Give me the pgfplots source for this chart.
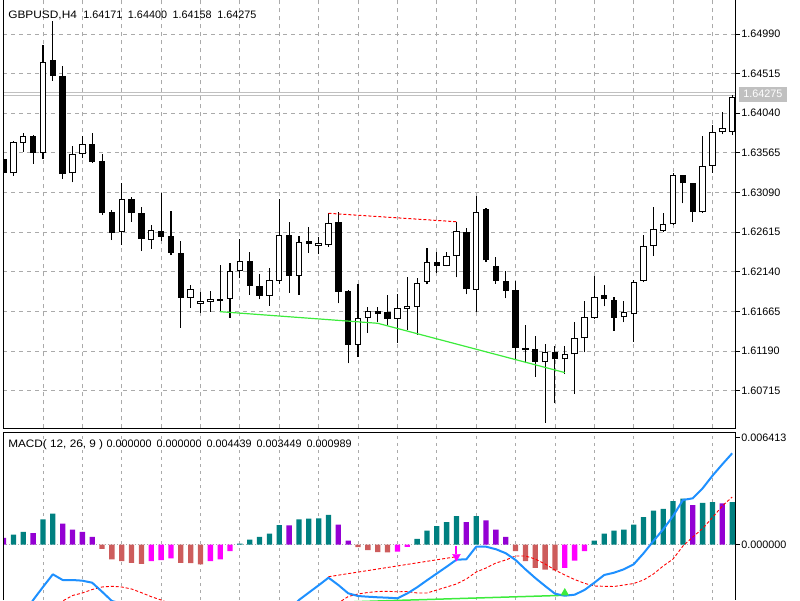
\documentclass[border=0pt]{standalone}
\usepackage{fontspec}
\setmainfont{Liberation Sans}
\usepackage{graphicx}
\usepackage{pgfplots}
\usepackage{pgfplotstable}
\pgfplotsset{compat=1.18}

\definecolor{gridc}{RGB}{170,170,170}
\definecolor{macdteal}{RGB}{0,128,128}
\definecolor{macdpurple}{RGB}{148,0,211}
\definecolor{macdsalmon}{RGB}{205,92,92}
\definecolor{macdmag}{RGB}{255,0,255}
\definecolor{macdblue}{RGB}{30,144,255}
\definecolor{divgreen}{RGB}{60,235,60}
\definecolor{bidgray}{RGB}{192,192,192}

\pgfplotstableread{
i o h l c
0 1.63492 1.63516 1.63300 1.63324
1 1.63321 1.63702 1.63292 1.63692
2 1.63687 1.63807 1.63579 1.63768
3 1.63768 1.63776 1.63432 1.63567
4 1.63567 1.64858 1.63492 1.64651
5 1.64678 1.65149 1.64427 1.64487
6 1.64487 1.64607 1.63252 1.63312
7 1.63321 1.63648 1.63213 1.63552
8 1.63552 1.63768 1.63508 1.63672
9 1.63672 1.63798 1.63444 1.63460
10 1.63468 1.63552 1.62821 1.62848
11 1.62860 1.62881 1.62521 1.62609
12 1.62611 1.63210 1.62461 1.63009
13 1.63009 1.63040 1.62740 1.62848
14 1.62848 1.62920 1.62389 1.62533
15 1.62521 1.62701 1.62413 1.62641
16 1.62629 1.63081 1.62513 1.62561
17 1.62569 1.62869 1.62341 1.62369
18 1.62362 1.62513 1.61470 1.61830
19 1.61830 1.61982 1.61710 1.61934
20 1.61754 1.61894 1.61650 1.61790
21 1.61782 1.61914 1.61662 1.61814
22 1.61814 1.62222 1.61662 1.61794
23 1.61814 1.62242 1.61590 1.62153
24 1.62153 1.62530 1.62062 1.62273
25 1.62273 1.62381 1.61862 1.61970
26 1.61973 1.62110 1.61810 1.61850
27 1.61850 1.62189 1.61734 1.62042
28 1.62033 1.63013 1.61994 1.62581
29 1.62581 1.62733 1.61890 1.62090
30 1.62090 1.62573 1.61862 1.62494
31 1.62509 1.62673 1.62369 1.62473
32 1.62449 1.62561 1.62350 1.62482
33 1.62461 1.62848 1.62441 1.62721
34 1.62733 1.62860 1.61762 1.61902
35 1.61910 1.61922 1.61043 1.61263
36 1.61263 1.61994 1.61123 1.61590
37 1.61583 1.61722 1.61407 1.61670
38 1.61674 1.61722 1.61542 1.61634
39 1.61655 1.61862 1.61502 1.61574
40 1.61574 1.61874 1.61290 1.61703
41 1.61694 1.62081 1.61442 1.61730
42 1.61722 1.62062 1.61383 1.62002
43 1.62021 1.62422 1.61990 1.62254
44 1.62261 1.62381 1.62122 1.62213
45 1.62213 1.62381 1.62205 1.62333
46 1.62329 1.62740 1.62074 1.62629
47 1.62613 1.62661 1.61870 1.61930
48 1.61922 1.63048 1.61662 1.62860
49 1.62887 1.62901 1.62257 1.62278
50 1.62210 1.62321 1.61994 1.62033
51 1.62033 1.62153 1.61822 1.61914
52 1.61922 1.62033 1.61095 1.61230
53 1.61230 1.61502 1.61043 1.61203
54 1.61215 1.61371 1.60883 1.61063
55 1.61055 1.61271 1.60332 1.61182
56 1.61182 1.61251 1.60564 1.61091
57 1.61091 1.61251 1.60915 1.61151
58 1.61151 1.61535 1.60675 1.61343
59 1.61343 1.61790 1.61175 1.61602
60 1.61590 1.62090 1.61580 1.61842
61 1.61862 1.61982 1.61727 1.61810
62 1.61802 1.61834 1.61434 1.61590
63 1.61595 1.61790 1.61535 1.61655
64 1.61634 1.62042 1.61302 1.62021
65 1.62030 1.62581 1.62014 1.62453
66 1.62449 1.62920 1.62329 1.62653
67 1.62633 1.62848 1.62621 1.62713
68 1.62709 1.63321 1.62700 1.63300
69 1.63300 1.63305 1.62961 1.63201
70 1.63201 1.63205 1.62740 1.62860
71 1.62853 1.63768 1.62845 1.63408
72 1.63408 1.63899 1.63328 1.63819
73 1.63812 1.64059 1.63788 1.63860
74 1.63819 1.64259 1.63780 1.64230
}\candles

\newcommand{\lblfont}{\fontsize{10.8}{12}\selectfont}

\begin{document}
\begin{tikzpicture}
\useasboundingbox (0pt,0pt) rectangle (800pt,600pt);

% ---------------- main price chart ----------------
\begin{axis}[
  at={(3.3pt,171.7pt)}, anchor=south west, scale only axis,
  width=732.4pt, height=428.3pt,
  xmin=-0.03, xmax=74.36, ymin=1.602643, ymax=1.653975,
  axis line style={draw=none},
  clip mode=individual,
  scaled x ticks=false, scaled y ticks=false,
  xtick={4,8,...,72}, xticklabels={}, xmajorgrids,
  xtick style={draw=none},
  ytick={1.64990,1.64515,1.64040,1.63565,1.63090,1.62615,1.62140,1.61665,1.61190,1.60715},
  yticklabels={1.64990,1.64515,1.64040,1.63565,1.63090,1.62615,1.62140,1.61665,1.61190,1.60715},
  ymajorgrids, ytick pos=right, ytick align=outside,
  major tick length=4pt,
  ytick style={black, line width=0.8pt},
  grid style={gridc, dash pattern=on 4pt off 4pt, line width=0.8pt},
  yticklabel style={font=\lblfont, anchor=west, inner sep=1.5pt},
]
\addplot[bidgray, line width=1pt] coordinates {(-1,1.64287) (76,1.64287)};
\addplot[bidgray, line width=1pt] coordinates {(-1,1.64252) (76,1.64252)};
% wicks
\addplot[draw=none, mark=none, error bars/.cd, y dir=plus, y explicit, error mark=none,
  error bar style={draw=black, line width=1.1pt}]
  table[x=i, y=l, y error plus expr={\thisrow{h}-\thisrow{l}}] {\candles};
% body outlines
\addplot[draw=none, mark=none, error bars/.cd, y dir=plus, y explicit, error mark=none,
  error bar style={draw=black, line width=6.4pt}]
  table[x=i, y expr={min(\thisrow{o},\thisrow{c})}, y error plus expr={max(abs(\thisrow{c}-\thisrow{o}),0.00012)}] {\candles};
% bullish inner fill
\addplot[draw=none, mark=none, error bars/.cd, y dir=plus, y explicit, error mark=none,
  error bar style={draw=white, line width=4.4pt}]
  table[x=i, y expr={\thisrow{o}+0.00012}, y error plus expr={max(\thisrow{c}-\thisrow{o}-0.00024,0)}] {\candles};
% divergence lines
\addplot[red, line width=1pt, dash pattern=on 3pt off 2pt] coordinates {(33,1.62841) (46,1.62740)};
\addplot[divgreen, line width=1.2pt] coordinates {(22,1.61662) (38,1.61523) (57,1.60932)};

\draw[black, line width=1pt] (rel axis cs:0,1) -- (rel axis cs:0,0) -- (rel axis cs:1,0) -- (rel axis cs:1,1);
\node[anchor=base west, font=\lblfont, inner sep=0pt] at ([xshift=4.8pt, yshift=-19pt]rel axis cs:0,1)
  {\makebox[75pt][l]{\scalebox{1.1}[1]{GBPUSD,H4}}\makebox[44.7pt][l]{1.64171}\makebox[44.7pt][l]{1.64400}\makebox[44.7pt][l]{1.64158}1.64275};
\end{axis}

\node[fill=bidgray, text=white, font=\lblfont, minimum width=47.7pt, minimum height=15pt, inner sep=0pt]
  at (762.8pt,505.8pt) {1.64275};

% ---------------- MACD panel ----------------
\begin{axis}[
  at={(3.3pt,0pt)}, anchor=south west, scale only axis,
  width=732.4pt, height=167.5pt,
  xmin=-0.03, xmax=74.36, ymin=-0.00332, ymax=0.0067,
  axis line style={draw=none},
  clip mode=individual,
  scaled x ticks=false, scaled y ticks=false,
  xtick={4,8,...,72}, xticklabels={}, xmajorgrids,
  xtick style={draw=none},
  ytick={0,0.006413}, yticklabels={0.000000,0.006413},
  ytick pos=right, ytick align=outside, major tick length=4pt,
  ytick style={black, line width=0.8pt},
  grid style={gridc, dash pattern=on 3pt off 4pt, line width=0.8pt},
  yticklabel style={font=\lblfont, anchor=west, inner sep=1.5pt},
]
\addplot[gridc, line width=0.8pt, dash pattern=on 1pt off 2pt] coordinates {(-1,0) (76,0)};
\addplot[ybar, bar width=5.3pt, bar shift=0pt, fill=macdteal, draw=none] coordinates {
(1,0.000598) (2,0.000760) (4,0.001496) (5,0.001854) (24,0.000060) (25,0.000299) (26,0.000461) (27,0.000658) (28,0.001155) (30,0.001496) (31,0.001555) (32,0.001567) (33,0.001777) (42,0.000341) (43,0.000837) (44,0.001095) (45,0.001334) (46,0.001693) (48,0.001693) (60,0.000239) (61,0.000658) (62,0.000837) (63,0.000897) (64,0.001196) (65,0.001633) (66,0.002034) (67,0.002136) (68,0.002590) (69,0.002752) (71,0.002494) (72,0.002530) (74,0.002530)};
\addplot[ybar, bar width=5.3pt, bar shift=0pt, fill=macdpurple, draw=none] coordinates {
(0,0.000401) (3,0.000676) (6,0.001256) (7,0.000897) (8,0.000760) (9,0.000461) (29,0.001137) (34,0.001196) (35,0.000239) (47,0.001334) (49,0.001436) (50,0.000897) (51,0.000461) (70,0.002351) (73,0.002453)};
\addplot[ybar, bar width=5.3pt, bar shift=0pt, fill=macdsalmon, draw=none] coordinates {
(10,-0.000257) (11,-0.000897) (12,-0.000999) (13,-0.001095) (14,-0.001155) (18,-0.001095) (19,-0.001107) (20,-0.001196) (36,-0.000162) (37,-0.000341) (38,-0.000461) (39,-0.000467) (52,-0.000401) (53,-0.000999) (54,-0.001394) (55,-0.001496) (56,-0.001555)};
\addplot[ybar, bar width=5.3pt, bar shift=0pt, fill=macdmag, draw=none] coordinates {
(15,-0.000999) (16,-0.000939) (17,-0.000837) (21,-0.000999) (22,-0.000897) (23,-0.000401) (40,-0.000419) (41,-0.000138) (57,-0.001394) (58,-0.000957) (59,-0.000401)};
% signal line
\addplot[red, line width=0.9pt, dash pattern=on 3pt off 2pt] coordinates {
(3,-0.004400) (4,-0.004038) (5,-0.003637) (6,-0.003380) (7,-0.003051) (8,-0.002901) (9,-0.002692) (10,-0.002542) (11,-0.002500) (12,-0.002542) (13,-0.002662) (14,-0.002883) (15,-0.003123) (16,-0.003320) (17,-0.003559) (18,-0.003858) (22,-0.004816) (28,-0.005115) (32,-0.004217) (33,-0.003763) (34,-0.003500) (35,-0.003111) (36,-0.002961) (37,-0.002871) (38,-0.002812) (39,-0.002800) (40,-0.002830) (41,-0.002812) (42,-0.002901) (43,-0.002901) (44,-0.002722) (45,-0.002542) (46,-0.002363) (47,-0.002064) (48,-0.001645) (49,-0.001406) (50,-0.001107) (51,-0.000927) (52,-0.000688) (53,-0.000688) (54,-0.000867) (55,-0.001166) (56,-0.001525) (57,-0.001825) (58,-0.002094) (59,-0.002321) (60,-0.002483) (61,-0.002500) (62,-0.002512) (63,-0.002423) (64,-0.002333) (65,-0.002124) (66,-0.001765) (67,-0.001286) (68,-0.000867) (69,-0.000090) (70,0.000449) (71,0.000957) (72,0.001615) (73,0.002303) (74,0.002841)};
% divergence lines
\addplot[red, line width=0.9pt, dash pattern=on 3pt off 2pt] coordinates {(33,-0.001926) (46,-0.000730)};
\addplot[divgreen, line width=1.5pt] coordinates {(22,-0.003679) (38,-0.003380) (57,-0.003039)};
% MACD main line
\addplot[macdblue, line width=2pt, line join=round] coordinates {
(2,-0.004217) (3,-0.003320) (4,-0.002542) (5,-0.001783) (6,-0.002124) (7,-0.002124) (8,-0.002165) (9,-0.002285) (10,-0.002824) (11,-0.003380) (12,-0.003529) (13,-0.003739) (14,-0.004038) (15,-0.004128) (16,-0.004277) (18,-0.004995) (22,-0.005713) (26,-0.005115) (28,-0.004397) (29,-0.003918) (30,-0.003320) (31,-0.002877) (32,-0.002441) (33,-0.001986) (34,-0.002423) (35,-0.002919) (36,-0.003081) (37,-0.003123) (38,-0.003158) (39,-0.003182) (40,-0.003218) (41,-0.002931) (42,-0.002560) (43,-0.002142) (44,-0.001735) (45,-0.001328) (46,-0.000909) (47,-0.000885) (48,-0.000132) (49,-0.000132) (50,-0.000281) (51,-0.000520) (52,-0.000927) (53,-0.001484) (54,-0.002004) (55,-0.002483) (56,-0.002943) (57,-0.003063) (58,-0.003003) (59,-0.002722) (60,-0.002285) (61,-0.001825) (62,-0.001687) (63,-0.001484) (64,-0.001184) (65,-0.000526) (66,0.000209) (67,0.000909) (68,0.001705) (69,0.002662) (70,0.002764) (71,0.003362) (72,0.004116) (73,0.004798) (74,0.005456)};
% arrows
\addplot[macdmag, line width=2pt] coordinates {(46,-0.00009) (46,-0.00055)};
\addplot[macdmag, only marks, mark=triangle*, mark size=4.5pt, mark options={rotate=180}] coordinates {(46,-0.00072)};
\addplot[divgreen, only marks, mark=triangle*, mark size=4.5pt] coordinates {(57,-0.00290)};

\draw[black, line width=1pt] (rel axis cs:0,0) -- (rel axis cs:0,1) -- (rel axis cs:1,1) -- (rel axis cs:1,0);
\node[anchor=base west, font=\lblfont, inner sep=0pt] at ([xshift=4.8pt, yshift=-14.5pt]rel axis cs:0,1)
  {\makebox[98.4pt][l]{\scalebox{1.09}[1]{MACD( 12, 26, 9 )}}\makebox[50pt][l]{0.000000}\makebox[50pt][l]{0.000000}\makebox[50pt][l]{0.004439}\makebox[50pt][l]{0.003449}0.000989};
\end{axis}
\end{tikzpicture}
\end{document}
